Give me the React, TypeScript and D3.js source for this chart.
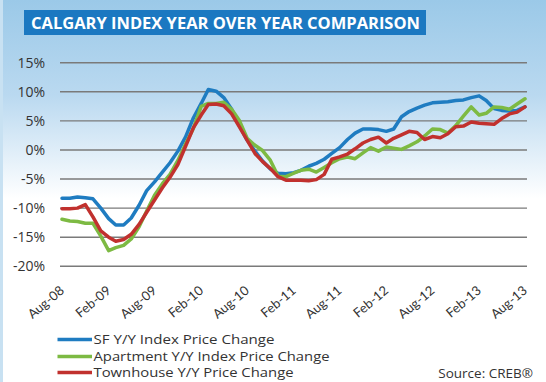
import React from "react";
import * as d3 from "d3";

const startMonth = new Date(2008, 7, 1);
const monthCount = 61;

const sfValues = [
  -8.3, -8.3, -8.1, -8.2, -8.4, -10.0, -11.8, -12.9, -12.9, -11.7,
  -9.5, -7.0, -5.5, -3.8, -2.2, -0.2, 2.2, 5.5, 8.0, 10.4,
  10.1, 9.0, 7.0, 4.3, 1.7, -0.2, -1.9, -3.3, -4.0, -4.1,
  -3.9, -3.5, -2.8, -2.3, -1.6, -0.6, 0.4, 1.8, 2.9, 3.6,
  3.6, 3.5, 3.2, 3.6, 5.7, 6.6, 7.2, 7.7, 8.1, 8.2,
  8.3, 8.5, 8.6, 9.0, 9.3, 8.5, 7.1, 6.8, 6.7, 6.8,
  7.4,
];

const apartmentValues = [
  -11.9, -12.2, -12.3, -12.6, -12.6, -14.8, -17.3, -16.8, -16.4, -15.3,
  -13.2, -10.5, -7.8, -5.8, -4.2, -1.8, 1.0, 3.7, 7.5, 8.0,
  8.0, 8.2, 7.0, 5.1, 2.0, 0.8, -0.1, -1.8, -4.5, -4.6,
  -4.0, -3.5, -3.3, -3.8, -3.0, -2.2, -1.5, -1.2, -1.5, -0.5,
  0.4, -0.2, 0.5, 0.3, 0.1, 0.7, 1.4, 2.4, 3.6, 3.5,
  2.9, 4.2, 5.8, 7.4, 6.0, 6.3, 7.4, 7.3, 7.0, 7.9,
  8.8,
];

const townhouseValues = [
  -10.1, -10.1, -10.0, -9.4, -11.5, -13.9, -15.0, -15.7, -15.4, -14.5,
  -12.8, -10.7, -8.6, -6.5, -4.7, -2.5, 0.6, 3.8, 6.0, 7.8,
  7.9, 7.6, 6.2, 4.0, 1.7, -0.6, -2.0, -3.2, -4.6, -5.2,
  -5.2, -5.2, -5.3, -5.1, -4.2, -1.6, -1.2, -0.7, 0.2, 1.2,
  1.8, 2.2, 1.2, 2.0, 2.6, 3.2, 3.0, 1.8, 2.3, 2.1,
  2.8, 4.0, 4.1, 4.8, 4.6, 4.5, 4.4, 5.4, 6.2, 6.5,
  7.4,
];

const seriesNames = [
  "SF Y/Y Index Price Change",
  "Apartment Y/Y Index Price Change",
  "Townhouse Y/Y Price Change",
];
const seriesColors = ["#1f7cc1", "#7dba43", "#c1312e"];
const yTicks = [15, 10, 5, 0, -5, -10, -15, -20];
const titleText = "CALGARY INDEX YEAR OVER YEAR COMPARISON";
const sourceText = "Source: CREB®";

export default function App() {
  const width = 546;
  const height = 382;
  const dates = d3.range(monthCount).map((i) => d3.timeMonth.offset(startMonth, i));
  const x = d3
    .scaleTime()
    .domain([dates[0], dates[dates.length - 1]])
    .range([62, 525]);
  const y = d3.scaleLinear().domain([-20, 15]).range([266.3, 62.7]);
  const xTicks = dates.filter((_, i) => i % 6 === 0);
  const fmt = d3.timeFormat("%b-%y");
  const allSeries = [sfValues, apartmentValues, townhouseValues];
  const line = d3
    .line<number>()
    .x((_, i) => x(dates[i]))
    .y((d) => y(d))
    .curve(d3.curveLinear);
  const font = "'Open Sans', sans-serif";
  const legendRows = [339.5, 356.5, 372.5];

  return (
    <div style={{ position: "absolute", left: 0, top: 0 }}>
      <svg width={width} height={height} style={{ display: "block" }}>
        <defs>
          <linearGradient id="bg" x1="0" y1="0" x2="0" y2="1">
            <stop offset="0" stopColor="#9bc9e8" />
            <stop offset="0.25" stopColor="#bad9f0" />
            <stop offset="0.52" stopColor="#ffffff" />
            <stop offset="1" stopColor="#ffffff" />
          </linearGradient>
        </defs>
        <rect x={0} y={0} width={width} height={height} fill="url(#bg)" />
        <rect x={0} y={0} width={3} height={height} fill="#c8e1f2" />
        <rect x={24} y={10} width={402} height={25} fill="#1b78c1" />
        <text
          x={31}
          y={28.5}
          fill="#ffffff"
          fontFamily={font}
          fontWeight={700}
          fontSize={16}
          textLength={389}
          lengthAdjust="spacingAndGlyphs"
        >
          {titleText}
        </text>
        {yTicks.map((t) => (
          <g key={t}>
            <line x1={60} x2={527} y1={y(t)} y2={y(t)} stroke="#7a7a7a" strokeWidth={1.4} />
            <text
              x={45}
              y={y(t)}
              dy="0.36em"
              textAnchor="end"
              fill="#333"
              fontFamily={font}
              fontSize={14}
            >
              {`${t}%`}
            </text>
          </g>
        ))}
        {xTicks.map((d) => (
          <text
            key={+d}
            transform={`translate(${x(d) + 3},${292}) rotate(-40)`}
            textAnchor="end"
            fill="#333"
            fontFamily="Lato, sans-serif"
            fontSize={13}
          >
            {fmt(d)}
          </text>
        ))}
        {allSeries.map((vals, i) => (
          <path
            key={i}
            d={line(vals) || ""}
            fill="none"
            stroke={seriesColors[i]}
            strokeWidth={3.5}
            strokeLinejoin="round"
            strokeLinecap="round"
          />
        ))}
        {seriesNames.map((name, i) => (
          <g key={name}>
            <line
              x1={57.5}
              x2={92}
              y1={legendRows[i]}
              y2={legendRows[i]}
              stroke={seriesColors[i]}
              strokeWidth={3.5}
            />
            <text
              x={93.5}
              y={legendRows[i]}
              dy="0.35em"
              fill="#333"
              fontFamily={font}
              fontSize={13.5}
              textLength={i === 0 ? 181 : i === 1 ? 236 : 200}
              lengthAdjust="spacingAndGlyphs"
            >
              {name}
            </text>
          </g>
        ))}
        <text
          x={533}
          y={373}
          dy="0.35em"
          textAnchor="end"
          fill="#333"
          fontFamily={font}
          fontSize={13.5}
        >
          {sourceText}
        </text>
      </svg>
    </div>
  );
}
